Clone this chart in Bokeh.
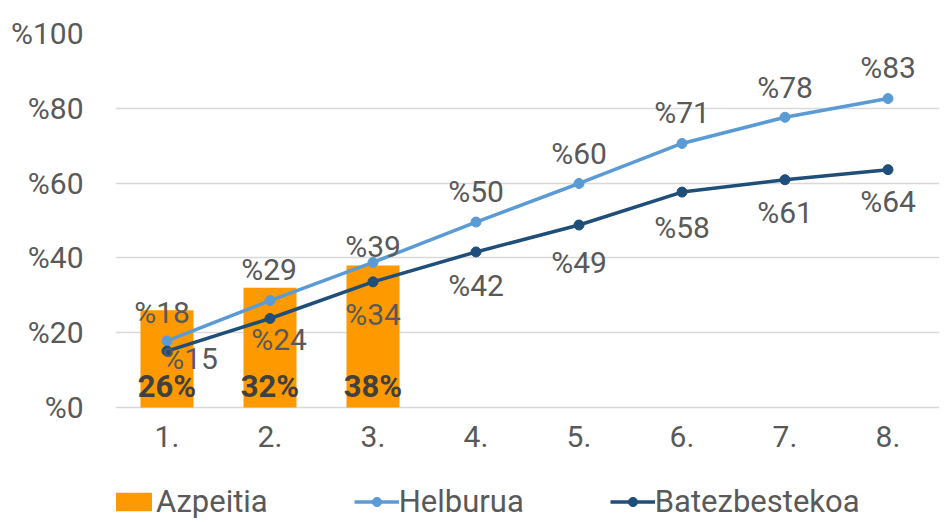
from bokeh.plotting import figure
from bokeh.models import ColumnDataSource, Legend, LegendItem, FixedTicker, Range1d
from bokeh.core.properties import value
from bokeh.embed import file_html
from bokeh.resources import INLINE

categories = ["1.", "2.", "3.", "4.", "5.", "6.", "7.", "8."]
azpeitia_cats = ["1.", "2.", "3."]
azpeitia = [26, 32, 38]
helburua = [17.8, 28.6, 38.8, 49.6, 59.9, 70.6, 77.6, 82.6]
batezbestekoa = [15.1, 23.8, 33.6, 41.6, 48.8, 57.6, 60.9, 63.6]
y_ticks = [0, 20, 40, 60, 80, 100]
y_tick_labels = ["%0", "%20", "%40", "%60", "%80", "%100"]

# label offsets in pixels (styling only)
helb_dx = [-5, -1, 0, 0, 0, 0, 0, 0]
helb_dy = [-28, -31, -16, -31, -30, -31, -30, -31]
batez_dx = [23, 9, 0, 0, 0, 0, 0, 0]
batez_dy = [7, 21, 33, 34, 37, 35, 33, 32]

FONT = "Roboto"
FS = "30px"
TXT = "#595959"
ORANGE = "#FF9900"
LBLUE = "#5B9BD5"
DBLUE = "#1F4E79"

# the frame extends below zero to host the category labels and legend
p = figure(width=945, height=520, x_range=categories, y_range=Range1d(-30.2, 100),
           x_axis_location=None,
           output_backend="svg", toolbar_location=None,
           min_border_left=115, min_border_right=6, min_border_top=33, min_border_bottom=0)
p.outline_line_color = None
p.background_fill_color = "white"
p.border_fill_color = "white"
p.xgrid.grid_line_color = None
p.ygrid.grid_line_color = "#D9D9D9"
p.ygrid.grid_line_width = 1.3
p.ygrid.ticker = FixedTicker(ticks=y_ticks)

p.yaxis.ticker = FixedTicker(ticks=y_ticks)
p.yaxis.major_label_overrides = {t: l for t, l in zip(y_ticks, y_tick_labels)}
ax = p.yaxis[0]
ax.axis_line_color = None
ax.major_tick_line_color = None
ax.minor_tick_line_color = None
ax.major_label_text_font = FONT
ax.major_label_text_font_size = FS
ax.major_label_text_color = TXT
ax.major_label_standoff = 26

bar_src = ColumnDataSource(dict(x=azpeitia_cats, top=azpeitia))
bars = p.vbar(x="x", top="top", width=0.515, source=bar_src, color=ORANGE, line_color=None)

src = ColumnDataSource(dict(x=categories, h=helburua, b=batezbestekoa,
                            hl=[f"%{round(v)}" for v in helburua],
                            bl=[f"%{round(v)}" for v in batezbestekoa],
                            hdx=helb_dx, hdy=helb_dy, bdx=batez_dx, bdy=batez_dy,
                            base=[0] * len(categories)))

hl = p.line(x="x", y="h", source=src, color=LBLUE, line_width=3.5)
hs = p.scatter(x="x", y="h", source=src, color=LBLUE, size=10)
bl = p.line(x="x", y="b", source=src, color=DBLUE, line_width=3.5)
bs = p.scatter(x="x", y="b", source=src, color=DBLUE, size=10)

p.text(x="x", y="h", text="hl", x_offset="hdx", y_offset="hdy", source=src,
       text_font=value(FONT), text_font_size=FS, text_color=TXT,
       text_align="center", text_baseline="middle")
p.text(x="x", y="b", text="bl", x_offset="bdx", y_offset="bdy", source=src,
       text_font=value(FONT), text_font_size=FS, text_color=TXT,
       text_align="center", text_baseline="middle")
# category (x axis) labels
p.text(x="x", y="base", text="x", source=src, y_offset=29,
       text_font=value(FONT), text_font_size=FS, text_color=TXT,
       text_align="center", text_baseline="middle")

bar_lbl_src = ColumnDataSource(dict(x=azpeitia_cats, y=[0] * len(azpeitia_cats),
                                    lbl=[f"{v}%" for v in azpeitia]))
p.text(x="x", y="y", text="lbl", source=bar_lbl_src, y_offset=-21,
       text_font=value(FONT), text_font_size="31px", text_font_style="bold",
       text_color="#404040", text_align="center", text_baseline="middle")

legend = Legend(items=[LegendItem(label="Azpeitia", renderers=[bars]),
                       LegendItem(label="Helburua", renderers=[hl, hs]),
                       LegendItem(label="Batezbestekoa", renderers=[bl, bs])],
                orientation="horizontal", location=(-4, 0),
                glyph_width=45, glyph_height=23, label_standoff=0, spacing=86,
                padding=0, margin=0, border_line_color=None, background_fill_alpha=0,
                label_text_font=FONT, label_text_font_size="31px", label_text_color=TXT)
p.add_layout(legend, "center")

open("out.html", "w").write(file_html(p, INLINE))
